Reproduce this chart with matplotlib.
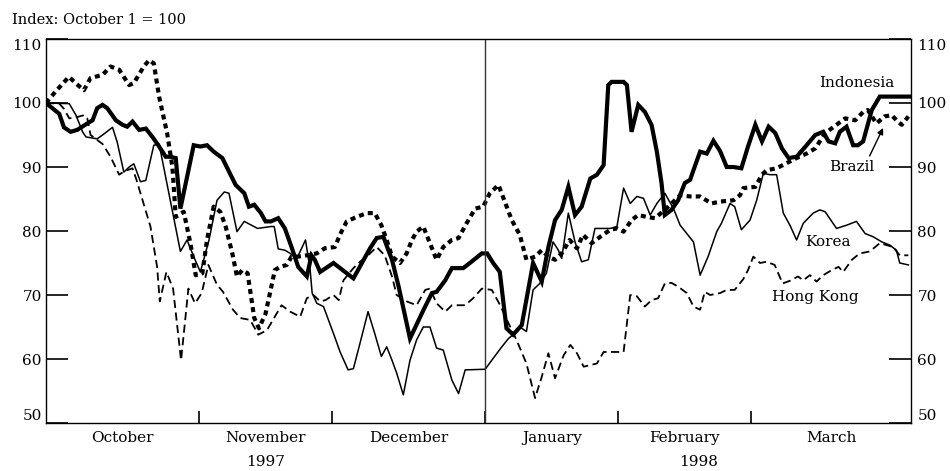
import matplotlib
matplotlib.use("Agg")
import matplotlib.pyplot as plt

# x = trading day counted from October 1, 1997 (index, Oct 1 = 100)
month_starts = [0, 23, 43, 66, 86, 106, 130]
month_names = ['October', 'November', 'December', 'January', 'February', 'March']
years = ['1997', '1998']

indonesia_day = [0, 2.0, 2.7, 3.7, 4.7, 6.2, 7.0, 7.7, 8.5, 9.2, 10.5, 11.5, 12.2, 13.0, 14.0,
                 15.0, 16.0, 17.0, 18.0, 18.7, 19.5, 20.2, 22.2, 23.2, 24.2, 25.2, 26.5, 27.5,
                 28.5, 29.8, 30.5, 31.3, 32.3, 33.0, 33.8, 34.9, 35.9, 36.9, 37.9, 39.2, 39.9,
                 40.4, 41.2, 43.2, 46.2, 48.7, 49.7, 50.7, 52.0, 53.0, 54.7, 56.7, 58.0, 58.7,
                 60.0, 61.0, 62.7, 63.7, 65.5, 66.3, 67.2, 68.2, 69.2, 70.2, 71.5, 72.5, 73.2,
                 74.5, 75.5, 76.5, 77.5, 78.5, 79.5, 80.5, 81.8, 82.8, 83.8, 84.5, 85.0, 86.8,
                 87.3, 88.0, 89.0, 90.0, 91.0, 91.8, 92.5, 93.0, 94.0, 95.0, 96.0, 96.8, 97.3,
                 98.3, 99.3, 100.3, 101.3, 102.3, 103.3, 104.5, 105.5, 106.6, 107.6, 108.6,
                 109.6, 110.6, 111.6, 112.8, 114.3, 115.6, 116.8, 117.6, 118.6, 119.3, 120.3,
                 121.3, 122.0, 122.8, 124.1, 125.3, 130.0]
indonesia = [100.0, 98.3, 96.2, 95.5, 95.8, 96.8, 97.3, 99.2, 99.7, 99.2, 97.3, 96.6, 96.3, 97.1,
             95.8, 96.0, 94.7, 93.2, 91.6, 91.6, 91.4, 83.5, 93.4, 93.2, 93.4, 92.4, 91.4, 89.3,
             87.2, 85.9, 83.8, 84.1, 82.8, 81.5, 81.5, 82.0, 80.4, 77.5, 74.4, 72.9, 76.2, 75.5,
             73.6, 75.0, 72.6, 77.3, 78.9, 79.1, 75.5, 71.3, 63.2, 67.6, 70.3, 70.5, 72.3, 74.2,
             74.2, 75.0, 76.5, 76.5, 75.0, 73.6, 64.8, 63.8, 65.3, 71.0, 75.0, 72.1, 77.5, 81.7,
             83.3, 86.9, 82.5, 83.8, 88.2, 88.8, 90.3, 102.8, 103.3, 103.3, 102.8, 95.5, 99.7,
             98.6, 96.6, 92.4, 87.5, 82.5, 83.3, 84.8, 87.5, 88.0, 89.5, 92.4, 92.1, 94.1, 92.5,
             90.0, 90.0, 89.8, 93.2, 96.6, 94.0, 96.3, 95.3, 92.9, 91.4, 91.6, 93.4, 95.0, 95.5,
             94.0, 93.7, 95.5, 96.3, 93.4, 93.4, 94.0, 98.9, 101.0, 101.0]

brazil_day = [0, 1.45, 3.45, 4.45, 5.7, 6.7, 8.5, 9.7, 11.0, 12.5, 13.2, 14.7, 15.5, 16.2, 17.0,
              18.2, 19.0, 19.5, 20.7, 21.7, 22.5, 23.5, 24.2, 25.2, 26.2, 27.0, 28.0, 28.7,
              29.5, 30.3, 31.3, 32.0, 33.0, 33.7, 34.4, 35.2, 36.2, 36.9, 37.9, 39.2, 40.7,
              41.9, 43.4, 44.4, 45.2, 46.7, 48.2, 49.4, 50.4, 51.2, 52.0, 53.2, 54.2, 55.0,
              55.7, 56.7, 57.7, 58.7, 59.7, 61.0, 62.0, 63.2, 64.5, 65.7, 66.7, 68.0, 70.0,
              71.2, 72.2, 73.5, 74.5, 75.5, 76.5, 77.5, 78.7, 79.8, 80.7, 82.0, 83.3, 84.8,
              85.8, 86.8, 88.0, 89.0, 90.3, 91.5, 93.0, 94.3, 95.3, 96.8, 98.3, 100.0, 101.3,
              103.3, 104.3, 104.8, 106.6, 107.6, 108.3, 109.8, 111.3, 112.8, 114.3, 115.6,
              117.1, 118.8, 120.1, 121.6, 122.8, 123.5, 124.8, 126.0, 127.1, 127.8, 128.6, 129.6]
brazil = [100.0, 101.8, 104.1, 103.1, 102.0, 103.9, 104.4, 105.7, 105.2, 102.8, 103.1, 105.7,
          106.7, 106.2, 101.0, 95.3, 90.0, 82.2, 83.0, 78.1, 73.1, 73.4, 78.6, 83.8, 83.0, 80.7,
          76.5, 72.9, 73.9, 73.4, 66.4, 64.8, 67.1, 70.5, 73.9, 74.4, 74.7, 76.0, 76.0, 76.2,
          76.5, 77.3, 77.5, 79.9, 81.5, 82.2, 82.8, 82.8, 80.9, 78.6, 76.0, 75.0, 76.5, 78.6,
          79.9, 80.7, 78.1, 75.5, 77.5, 78.6, 78.9, 81.2, 83.5, 83.8, 85.9, 87.2, 81.7, 79.4,
          75.5, 76.0, 77.0, 76.0, 75.5, 76.5, 78.6, 77.3, 79.4, 78.1, 79.1, 80.2, 80.4, 79.9,
          81.7, 82.5, 82.2, 82.0, 83.3, 84.6, 85.6, 85.4, 85.4, 84.3, 84.6, 84.8, 85.6, 86.7,
          86.9, 88.8, 89.5, 89.8, 90.6, 91.4, 92.1, 92.9, 95.3, 96.6, 97.6, 97.3, 98.6, 98.9,
          96.8, 97.9, 98.1, 97.3, 96.6, 97.9]

korea_day = [0, 3.5, 4.5, 5.5, 6.0, 7.7, 8.5, 10.0, 10.7, 11.7, 12.5, 13.2, 14.2, 15.0, 16.2,
             17.0, 20.2, 21.2, 22.2, 23.2, 24.5, 25.7, 26.8, 27.5, 28.7, 29.8, 31.8, 33.8, 34.3,
             34.9, 35.9, 36.7, 37.7, 39.0, 39.7, 40.0, 40.7, 41.7, 43.2, 44.2, 45.4, 46.2, 47.2,
             48.4, 49.4, 50.4, 51.2, 52.0, 52.7, 53.7, 54.7, 55.7, 56.7, 57.7, 58.7, 59.7, 61.0,
             62.0, 63.0, 66.0, 67.2, 68.5, 69.5, 70.2, 71.2, 72.2, 73.2, 74.2, 75.2, 76.2, 77.0,
             77.5, 78.5, 79.5, 80.5, 81.5, 82.5, 84.8, 85.8, 86.8, 87.8, 88.8, 89.8, 90.8, 91.8,
             93.0, 94.3, 95.3, 97.3, 98.3, 99.5, 100.8, 101.5, 102.8, 103.5, 104.5, 105.8,
             106.8, 107.8, 108.8, 109.8, 110.8, 111.8, 112.8, 113.8, 115.3, 116.3, 117.1, 118.8,
             120.3, 121.8, 123.1, 124.3, 125.6, 126.8, 127.8, 128.3, 129.6]
korea = [100.0, 99.9, 98.1, 95.5, 94.7, 94.4, 95.0, 96.2, 93.9, 89.2, 90.0, 90.5, 87.7, 87.9,
         93.4, 93.6, 76.8, 78.6, 76.0, 73.6, 78.6, 84.8, 86.1, 85.9, 79.9, 81.5, 80.4, 80.7, 80.7,
         77.2, 77.0, 76.5, 75.7, 78.6, 73.9, 70.3, 68.7, 68.2, 64.0, 61.1, 58.3, 58.5, 62.5, 67.4,
         64.0, 60.4, 61.9, 59.8, 57.8, 54.4, 59.8, 63.0, 65.0, 65.0, 61.7, 61.4, 56.7, 54.6, 58.3,
         58.4, 60.1, 61.9, 63.2, 63.8, 65.0, 64.3, 70.8, 71.8, 73.4, 78.3, 77.0, 75.7, 82.8, 78.3,
         75.2, 75.5, 80.4, 80.4, 80.7, 86.7, 84.3, 85.4, 85.1, 82.5, 84.3, 85.9, 83.5, 80.9, 78.3,
         73.1, 76.0, 79.9, 81.2, 84.3, 83.8, 80.2, 81.7, 84.8, 89.0, 88.8, 88.8, 82.8, 80.9, 78.6,
         81.2, 82.8, 83.3, 83.0, 80.4, 80.9, 81.5, 79.6, 79.1, 78.3, 77.8, 77.0, 75.0, 74.7]

hongkong_day = [0, 2.0, 2.7, 3.5, 4.7, 5.7, 6.2, 6.7, 8.5, 9.7, 11.0, 11.7, 13.0, 13.6, 14.2,
                15.7, 16.7, 17.1, 18.1, 19.1, 20.3, 21.4, 22.4, 23.4, 24.4, 25.7, 26.6, 28.1,
                29.2, 30.7, 31.9, 33.2, 35.4, 36.7, 38.2, 39.2, 40.2, 41.2, 42.0, 43.2, 44.0,
                44.7, 46.2, 47.2, 48.2, 49.7, 50.9, 52.0, 52.7, 54.2, 55.7, 57.0, 57.7, 58.7,
                60.0, 61.0, 63.0, 64.2, 65.5, 67.0, 68.2, 69.5, 70.7, 72.2, 73.5, 74.5, 75.5,
                76.5, 77.8, 78.8, 79.8, 80.8, 82.8, 83.8, 86.8, 87.8, 88.8, 90.0, 91.0, 92.0,
                93.0, 94.0, 95.0, 96.3, 97.3, 98.3, 99.0, 99.8, 101.3, 102.3, 103.5, 104.8,
                105.5, 106.3, 107.3, 108.3, 109.5, 110.7, 112.0, 113.0, 113.8, 114.8, 115.8,
                116.8, 118.1, 119.1, 119.8, 121.1, 122.3, 123.8, 125.3, 126.3, 127.3, 128.3, 129.6]
hongkong = [100.0, 99.9, 99.1, 97.6, 97.8, 98.1, 97.6, 95.0, 93.6, 91.6, 88.8, 89.3, 89.8, 88.0,
            85.9, 80.7, 74.4, 69.0, 73.6, 71.0, 59.8, 71.0, 68.7, 70.3, 74.7, 71.6, 70.5, 67.7,
            66.4, 66.1, 63.8, 64.5, 68.4, 67.4, 66.6, 69.5, 70.0, 69.0, 69.2, 70.0, 69.2, 72.3,
            74.2, 75.2, 76.0, 77.5, 76.2, 72.9, 70.0, 69.0, 68.4, 70.8, 71.0, 68.7, 67.4, 68.4,
            68.4, 69.5, 71.0, 70.8, 68.5, 65.6, 63.0, 59.3, 53.9, 57.2, 60.9, 57.0, 60.6, 62.2,
            60.9, 58.8, 59.3, 61.1, 61.1, 70.0, 69.8, 68.2, 69.2, 69.5, 71.8, 71.9, 71.3, 70.3,
            68.2, 67.7, 70.5, 70.0, 70.3, 70.8, 70.8, 72.5, 73.9, 76.0, 75.0, 75.2, 74.7, 71.8,
            72.3, 72.9, 72.3, 73.1, 72.1, 73.1, 73.9, 74.4, 73.6, 75.5, 76.5, 76.8, 78.1, 77.8,
            77.5, 76.2, 76.2]

serif = 'DejaVu Serif'
fs = 11

fig = plt.figure(figsize=(9.5, 4.71), dpi=100)
ax = fig.add_axes([0.0484, 0.1019, 0.9106, 0.8153])

ax.plot(hongkong_day, hongkong, color='black', lw=1.3, dashes=(4.5, 2.5))
ax.plot(korea_day, korea, color='black', lw=1.1)
ax.plot(brazil_day, brazil, color='black', lw=3.0, dashes=(1.2, 1.0), dash_capstyle='butt')
ax.plot(indonesia_day, indonesia, color='black', lw=3.0, solid_joinstyle='miter')

ax.axvline(month_starts[3], color='#333333', lw=1.0)

ax.set_xlim(month_starts[0], month_starts[-1])
ax.set_ylim(50, 110)

for s in ax.spines.values():
    s.set_linewidth(1.0)

ax.set_yticks(range(50, 111, 10))
ax.tick_params(axis='y', which='major', direction='in', length=16, width=1.2, pad=3,
               left=True, right=True, labelleft=True, labelright=True, labelsize=fs)
ticks = ax.yaxis.get_major_ticks()
ticks[0].label1.set_va('bottom')
ticks[0].label2.set_va('bottom')
ticks[-1].label1.set_va('top')
ticks[-1].label2.set_va('top')

ax.set_xticks(month_starts[1:-1])
ax.set_xticklabels([])
ax.tick_params(axis='x', which='major', direction='in', length=9, width=1.2)
mids = [(a + b) / 2 for a, b in zip(month_starts[:-1], month_starts[1:])]
ax.set_xticks(mids, minor=True)
ax.set_xticklabels(month_names, minor=True)
ax.tick_params(axis='x', which='minor', length=0, pad=6, labelsize=fs)

for lab in ax.get_xticklabels(minor=True) + ax.get_yticklabels():
    lab.set_family(serif)

# right-side labels sit a little further from the spine
shift = matplotlib.transforms.ScaledTranslation(1.5 / 72, 0, fig.dpi_scale_trans)
for t in ticks:
    t.label2.set_family(serif)
    t.label2.set_transform(t.label2.get_transform() + shift)

xf = ax.get_xaxis_transform()
ax.text((month_starts[0] + month_starts[3]) / 2, -0.102, years[0], transform=xf,
        ha='center', va='center', fontsize=fs, family=serif)
ax.text((month_starts[3] + month_starts[-1]) / 2, -0.102, years[1], transform=xf,
        ha='center', va='center', fontsize=fs, family=serif)

ax.text(121.9, 103.1, 'Indonesia', ha='center', va='center', fontsize=fs, family=serif)
ax.annotate('Brazil', xy=(125.8, 96.1), xytext=(121.1, 90.0), ha='center', va='center',
            fontsize=fs, family=serif,
            arrowprops=dict(arrowstyle='-|>', color='black', lw=1.0, mutation_scale=9,
                            relpos=(0.85, 1.0), shrinkA=1, shrinkB=0))
ax.text(117.5, 78.3, 'Korea', ha='center', va='center', fontsize=fs, family=serif)
ax.text(115.6, 69.7, 'Hong Kong', ha='center', va='center', fontsize=fs, family=serif)

fig.text(0.0126, 0.9575, 'Index: October 1 = 100', ha='left', va='center', fontsize=fs - 0.5,
         family=serif)

fig.savefig('out.png', dpi=100)
